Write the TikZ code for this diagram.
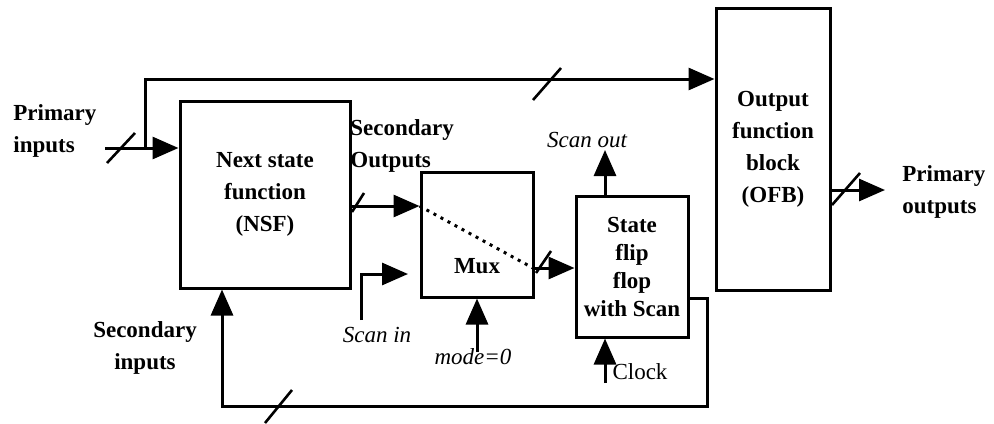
\documentclass[tikz,border=0pt]{standalone}
\usepackage{fontspec}
\setmainfont{Liberation Serif}
\usetikzlibrary{arrows.meta,calc}
\tikzset{>={Triangle[length=13pt,width=11pt]}}
\tikzset{
  block/.style={draw,line width=1.5pt,align=center,inner sep=0pt,
    font=\bfseries\fontsize{11.5}{16}\selectfont},
  wire/.style={line width=1.5pt},
  busmark/.style={line width=1.3pt},
  lbl/.style={inner sep=0pt,font=\bfseries\fontsize{11.5}{16}\selectfont},
  ital/.style={inner sep=0pt,font=\itshape\fontsize{11.5}{14}\selectfont}
}

\begin{document}
\begin{tikzpicture}[x=0.5pt,y=-0.5pt]
  \useasboundingbox (0,0) rectangle (994,423);
  % Blocks
  \node[block,minimum width=85pt,minimum height=93.5pt] (nsf) at (265,194.5) {Next state\\function\\(NSF)};
  \node[block,minimum width=56pt,minimum height=62.5pt,
        label={[font=\bfseries\fontsize{11.5}{16}\selectfont,yshift=-16pt]center:Mux}] (mux) at (477,234.5) {};
  \node[block,minimum width=56pt,minimum height=70.5pt,
        font=\bfseries\fontsize{11.5}{14}\selectfont] (ff) at (632,266.5) {State\\flip\\flop\\with Scan};
  \node[block,minimum width=57pt,minimum height=141pt] (ofb) at (773,149) {Output\\function\\block\\(OFB)};
  % Labels
  \node[lbl,align=left,anchor=west] (pinlbl) at (13,131) {Primary\\inputs};
  \node[lbl,align=center] (silbl) at (145,348) {Secondary\\inputs};
  \node[lbl,align=left,anchor=west] (solbl) at (350,146) {Secondary\\Outputs};
  \node[lbl,align=left,anchor=west] (polbl) at (902,192) {Primary\\outputs};
  \node[ital] (scanout) at (587,140) {Scan out};
  \node[ital] (scanin) at (377,335) {Scan in};
  \node[ital] (mode) at (473,357) {mode=0};
  \node[inner sep=0pt,font=\fontsize{11.5}{14}\selectfont] (clk) at (640,372) {Clock};
  % Wire points
  \coordinate (pin) at (105,148);
  \coordinate (br) at (145,148);
  \coordinate (top) at (145,79);
  \coordinate (so) at (350,206);
  \coordinate (mo) at (533,268);
  \coordinate (sin) at (361,320);
  \coordinate (sinend) at (408,274);
  \coordinate (md) at (477,352);
  \coordinate (sc) at (605,150);
  \coordinate (ck) at (605,383);
  \coordinate (fbo) at (707,298);
  \coordinate (fbi) at (222,406);
  \coordinate (po) at (885,190);
  % Primary inputs
  \draw[wire,->] (pin) -- (pin -| nsf.west);
  \draw[wire,->] (br) -- (top) -- (top -| ofb.west);
  % Secondary outputs through the mux
  \draw[wire,->] (so) -- (so -| mux.west);
  \draw[line width=1.5pt,dash pattern=on 1.5pt off 2.5pt] (so -| mux.west) -- (mo);
  \draw[wire,->] (mo) -- (mo -| ff.west);
  % Scan chain
  \draw[wire,->] (sin) |- (sinend);
  \draw[wire,->] (md) -- (mux.south);
  \draw[wire,->] (sc |- ff.north) -- (sc);
  \draw[wire,->] (ck) -- (ck |- ff.south);
  % Feedback to secondary inputs
  \draw[wire,->] (fbo -| ff.east) -- (fbo) -- (fbo |- fbi) -- (fbi) -- (fbi |- nsf.south);
  % Primary outputs
  \draw[wire,->] (po -| ofb.east) -- (po);
  % Bus marks
  \draw[busmark] (107,163) -- (135,133);
  \draw[busmark] (533,100) -- (561,68);
  \draw[busmark] (265,423) -- (292,390);
  \draw[busmark] (352,212) -- (364,193);
  \draw[busmark] (536,273) -- (551,251);
  \draw[busmark] (832,205) -- (860,173);
\end{tikzpicture}
\end{document}
